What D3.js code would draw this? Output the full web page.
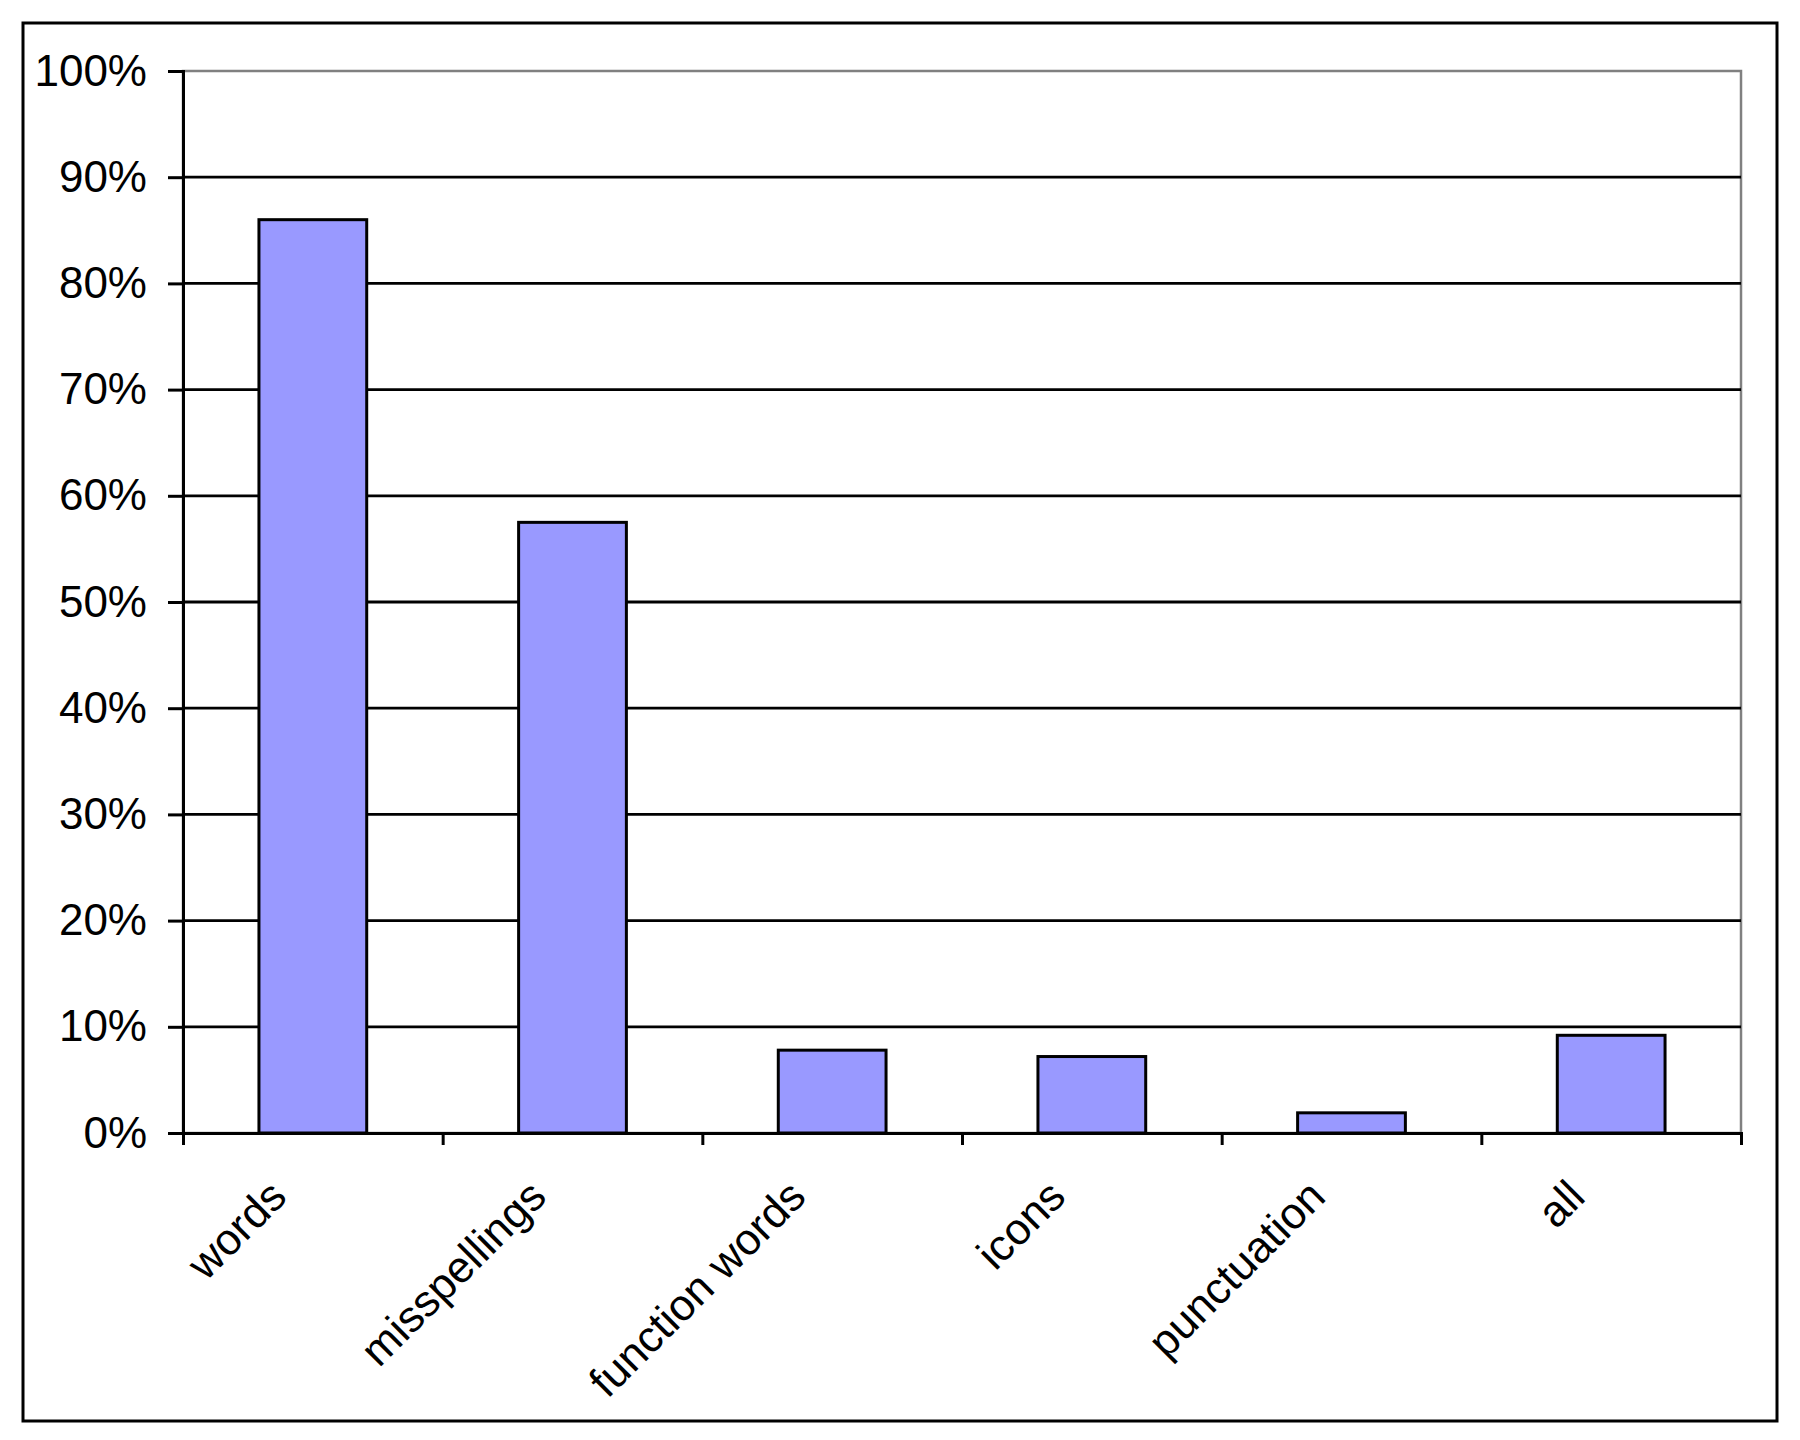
<!DOCTYPE html>
<html>
<head>
<meta charset="utf-8">
<script src="https://cdn.jsdelivr.net/npm/d3@7"></script>
<style>
  html, body { margin: 0; padding: 0; background: #fff; }
  svg { display: block; }
</style>
</head>
<body>
<svg id="chart" width="1800" height="1440"></svg>
<script>
const categories = ["words", "misspellings", "function words", "icons", "punctuation", "all"];
const values = [0.86, 0.575, 0.078, 0.072, 0.019, 0.092];
const yTicks = [0, 0.1, 0.2, 0.3, 0.4, 0.5, 0.6, 0.7, 0.8, 0.9, 1.0];

const svg = d3.select("#chart");
const W = 1800, H = 1440;
const plot = { left: 183, right: 1741, top: 71, bottom: 1133 };
const fontFamily = "'Liberation Sans', Arial, Helvetica, sans-serif";
const fontSize = 44;

svg.append("rect").attr("width", W).attr("height", H).attr("fill", "#fff");

// Outer chart border
svg.append("rect")
  .attr("x", 23).attr("y", 23)
  .attr("width", 1754).attr("height", 1398)
  .attr("fill", "none").attr("stroke", "#000").attr("stroke-width", 3);

const y = d3.scaleLinear().domain([0, 1]).range([plot.bottom, plot.top]);
const x = d3.scaleBand().domain(categories)
  .range([plot.left, plot.right])
  .paddingInner(0.585).paddingOuter(0.2925);
const xb = d3.scaleLinear().domain([0, categories.length]).range([plot.left, plot.right]);

// Plot area border (gray)
svg.append("rect")
  .attr("x", plot.left).attr("y", plot.top)
  .attr("width", plot.right - plot.left).attr("height", plot.bottom - plot.top)
  .attr("fill", "none").attr("stroke", "#808080").attr("stroke-width", 2.5);

// Gridlines
svg.append("g").selectAll("line")
  .data(yTicks.filter(t => t > 0 && t < 1))
  .join("line")
  .attr("x1", plot.left).attr("x2", plot.right)
  .attr("y1", d => y(d)).attr("y2", d => y(d))
  .attr("stroke", "#000").attr("stroke-width", 2.8);

// Bars
svg.append("g").selectAll("rect")
  .data(categories.map((c, i) => ({ c, v: values[i] })))
  .join("rect")
  .attr("x", d => x(d.c))
  .attr("y", d => y(d.v))
  .attr("width", x.bandwidth())
  .attr("height", d => y(0) - y(d.v))
  .attr("fill", "#9999FF")
  .attr("stroke", "#000").attr("stroke-width", 3);

// Y axis
const yAxis = svg.append("g")
  .attr("transform", `translate(${plot.left},0)`)
  .call(d3.axisLeft(y).tickValues(yTicks).tickSize(15).tickPadding(21)
    .tickFormat(d3.format(".0%")));
yAxis.select(".domain").attr("stroke", "#000").attr("stroke-width", 3);
yAxis.selectAll(".tick line").attr("stroke", "#000").attr("stroke-width", 3);
yAxis.selectAll(".tick text")
  .attr("font-family", fontFamily).attr("font-size", fontSize).attr("fill", "#000");

// X axis (ticks at category boundaries)
const xAxis = svg.append("g")
  .attr("transform", `translate(0,${plot.bottom})`)
  .call(d3.axisBottom(xb).tickValues(d3.range(categories.length + 1)).tickSize(12).tickFormat(""));
xAxis.select(".domain").attr("stroke", "#000").attr("stroke-width", 3);
xAxis.selectAll(".tick line").attr("stroke", "#000").attr("stroke-width", 3);

// X labels rotated
svg.append("g").selectAll("text")
  .data(categories)
  .join("text")
  .attr("transform", d => `translate(${x(d) + x.bandwidth() / 2 - 24},${plot.bottom + 66}) rotate(-45)`)
  .attr("text-anchor", "end")
  .attr("font-family", fontFamily).attr("font-size", fontSize).attr("fill", "#000")
  .text(d => d);
</script>
</body>
</html>
